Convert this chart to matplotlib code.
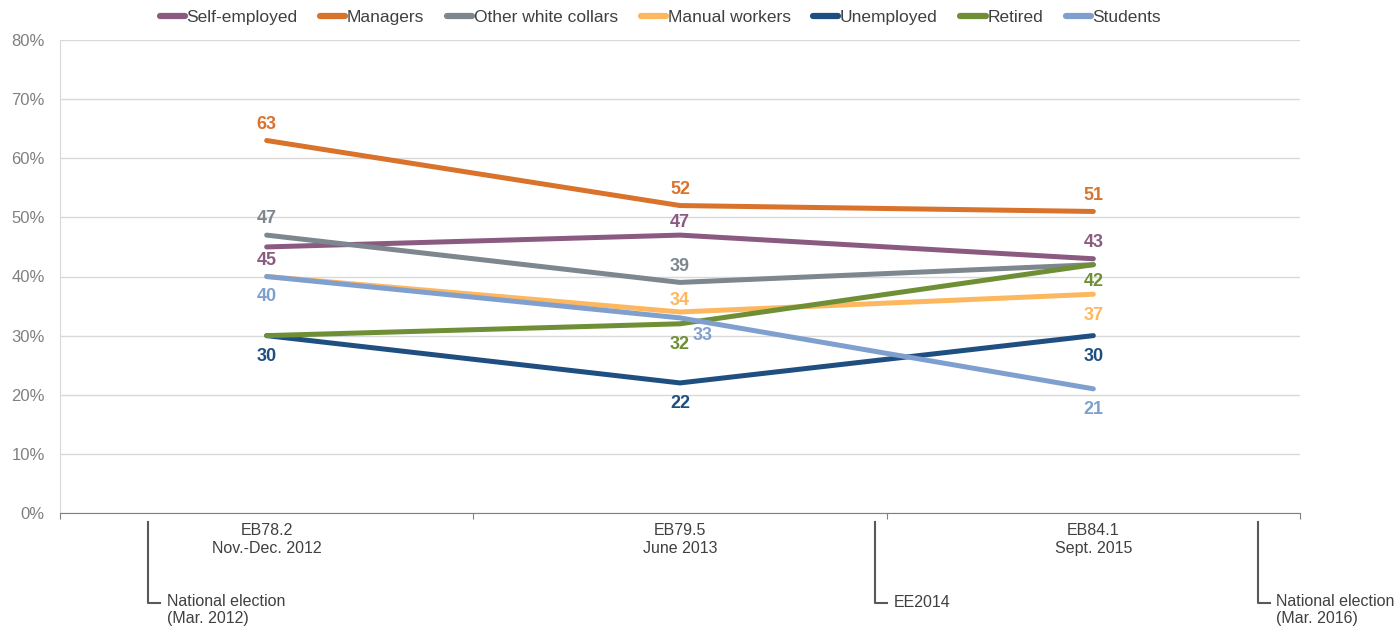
import matplotlib
matplotlib.use("Agg")
import matplotlib.pyplot as plt
from matplotlib.lines import Line2D

plt.rcParams['font.family'] = ['Liberation Sans', 'DejaVu Sans']

surveys = ["EB78.2\nNov.-Dec. 2012", "EB79.5\nJune 2013", "EB84.1\nSept. 2015"]
series_names = ["Self-employed", "Managers", "Other white collars", "Manual workers",
                "Unemployed", "Retired", "Students"]
self_employed = [45, 47, 43]
managers = [63, 52, 51]
other_white = [47, 39, 42]
manual = [40, 34, 37]
unemployed = [30, 22, 30]
retired = [30, 32, 42]
students = [40, 33, 21]
colors = ["#8B5A80", "#D9722B", "#7D878D", "#FDB75E", "#1F4F80", "#6E8F35", "#7FA0CF"]

# label offsets (dx, dy) in pixels from each point; None = label hidden
label_offsets = [
    [(0, -12), (0, 15), (0, 18)],
    [(0, 18), (0, 18), (0, 18)],
    [(0, 19), (0, 18), None],
    [None, (0, 13), (0, -19)],
    [(0, -19), (0, -19), (0, -19)],
    [None, (0, -19), (0, -15)],
    [(0, -18), (23, -16), (0, -19)],
]

events = ["National election\n(Mar. 2012)", "EE2014", "National election\n(Mar. 2016)"]
event_x = [0.213, 1.972, 2.898]

data = [self_employed, managers, other_white, manual, unemployed, retired, students]

W, H = 1399, 628
fig = plt.figure(figsize=(W / 100, H / 100), dpi=100)
ax = fig.add_axes([60 / W, 1 - 513 / H, 1240 / W, 473 / H])

xs = [0.5, 1.5, 2.5]
for name, vals, c in zip(series_names, data, colors):
    ax.plot(xs, [v / 100 for v in vals], color=c, lw=3.6, solid_capstyle='round',
            solid_joinstyle='round', label=name, zorder=3)

px2pt = 0.72
for vals, c, offs in zip(data, colors, label_offsets):
    for x, v, o in zip(xs, vals, offs):
        if o is None:
            continue
        dx, dy = o
        ax.annotate(str(v), (x, v / 100), xytext=(dx * px2pt, dy * px2pt),
                    textcoords='offset points', ha='center', va='center_baseline',
                    color=c, fontsize=13, fontweight='bold')

ax.set_xlim(0, 3)
ax.set_ylim(0, 0.8)
ax.set_yticks([i / 10 for i in range(9)])
ax.set_yticklabels([f"{i * 10}%" for i in range(9)], fontsize=12, color="#808080")
ax.yaxis.grid(True, color="#d9d9d9", lw=1)
ax.set_axisbelow(True)
ax.tick_params(axis='y', length=0, pad=11)
ax.set_xticks([0, 1, 2, 3])
ax.set_xticklabels([])
ax.tick_params(axis='x', length=4, direction='out', color="#808080")
for s in ['top', 'right']:
    ax.spines[s].set_visible(False)
ax.spines['left'].set_color("#d9d9d9")
ax.spines['bottom'].set_color("#808080")

trans = ax.get_xaxis_transform()
for x, lab in zip(xs, surveys):
    ax.text(x, -0.022, lab, transform=trans, ha='center', va='top',
            fontsize=11.5, color="#404040", linespacing=1.2)

for x, lab in zip(event_x, events):
    ax.plot([x, x, x + 0.03], [-0.02, -0.19, -0.19], transform=trans, color="#595959",
            lw=1.5, clip_on=False)
    if '\n' in lab:
        ax.text(x + 0.045, -0.172, lab, transform=trans, ha='left', va='top',
                fontsize=11.5, color="#404040", linespacing=1.15)
    else:
        ax.text(x + 0.045, -0.19, lab, transform=trans, ha='left', va='center',
                fontsize=11.5, color="#404040")

handles = [Line2D([0], [0], color=c, lw=4.5, solid_capstyle='round') for c in colors]
fig.legend(handles, series_names, loc='center', bbox_to_anchor=(0.472, 1 - 17 / H), ncol=7,
           frameon=False, fontsize=12.5, handlelength=1.45, handletextpad=0.1,
           columnspacing=1.3, labelcolor="#404040")

fig.savefig("out.png", dpi=100)
